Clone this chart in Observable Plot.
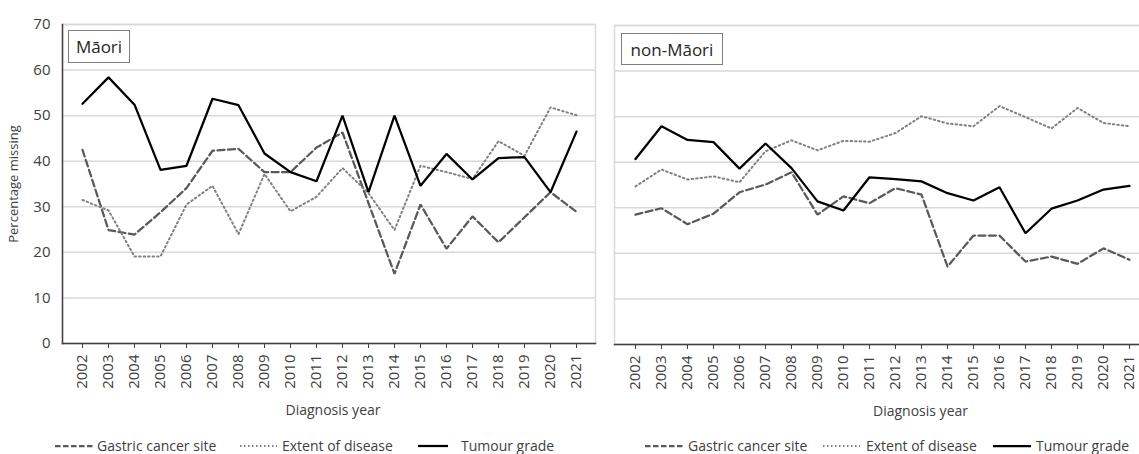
<!DOCTYPE html>
<html>
<head>
<meta charset="utf-8">
<script src="https://cdn.jsdelivr.net/npm/d3@7"></script>
<script src="https://cdn.jsdelivr.net/npm/@observablehq/plot@0.6"></script>
<style>
  body { margin: 0; background: #fff; overflow: hidden; font-family: "Open Sans", sans-serif; color: #404040; }
  #root { position: relative; width: 1139px; height: 454px; overflow: hidden; }
  .chart { position: absolute; top: 0; }
  .tag { position: absolute; box-sizing: border-box; border: 1.5px solid #7f7f7f; background: #fff;
         font-size: 17px; color: #262626; display: flex; align-items: center; justify-content: center; }
  .leg { position: absolute; top: 437px; height: 18px; line-height: 18px; font-size: 14px; white-space: nowrap; color: #404040; }
  .sw { position: absolute; top: 437px; }
</style>
</head>
<body>
<div id="root"></div>
<script>
// ---- data ----
const years = ["2002","2003","2004","2005","2006","2007","2008","2009","2010","2011",
               "2012","2013","2014","2015","2016","2017","2018","2019","2020","2021"];
const seriesNames = ["Gastric cancer site", "Extent of disease", "Tumour grade"];
const panelNames = ["Māori", "non-Māori"];
const yTicks = [0, 10, 20, 30, 40, 50, 60, 70];

const maoriGastric = [42.5, 24.9, 23.9, 28.8, 34.1, 42.3, 42.7, 37.6, 37.6, 43.0,
                      46.3, 30.8, 15.3, 30.5, 20.8, 27.9, 22.2, 27.7, 33.2, 28.9];
const maoriExtent  = [31.5, 29.2, 19.1, 19.1, 30.5, 34.6, 24.0, 37.2, 29.0, 32.2,
                      38.5, 33.0, 24.9, 39.0, 37.6, 36.1, 44.4, 41.2, 51.8, 50.1];
const maoriTumour  = [52.6, 58.4, 52.4, 38.1, 39.0, 53.7, 52.3, 41.7, 37.6, 35.6,
                      50.0, 33.2, 50.0, 34.6, 41.6, 36.0, 40.7, 40.9, 33.2, 46.5];

const nonMaoriGastric = [28.5, 29.9, 26.4, 28.7, 33.4, 35.1, 37.8, 28.5, 32.5, 31.0,
                         34.3, 32.9, 17.1, 23.9, 23.9, 18.2, 19.3, 17.7, 21.1, 18.6];
const nonMaoriExtent  = [34.7, 38.4, 36.2, 36.9, 35.6, 42.4, 44.8, 42.6, 44.7, 44.5,
                         46.4, 50.1, 48.5, 47.9, 52.3, 49.9, 47.4, 51.9, 48.6, 47.9];
const nonMaoriTumour  = [40.7, 47.9, 44.9, 44.4, 38.6, 44.1, 38.7, 31.4, 29.4, 36.7,
                         36.3, 35.8, 33.2, 31.6, 34.5, 24.4, 29.8, 31.6, 34.0, 34.8];

// ---- styles ----
const styles = [
  {stroke: "#595959", strokeWidth: 2.25, strokeDasharray: "7,3.5"},
  {stroke: "#808080", strokeWidth: 2, strokeDasharray: "1.5,3"},
  {stroke: "#000000", strokeWidth: 2.25, strokeDasharray: null}
];

function rowsFor(arrs) {
  const out = [];
  arrs.forEach((arr, si) => arr.forEach((v, i) => out.push({year: years[i], value: v, series: seriesNames[si]})));
  return out;
}

function panel({rows, width, marginLeft, marginRight, marginTop, marginBottom, showY, labelDx}) {
  const marks = [
    Plot.gridY(yTicks, {stroke: "#d9d9d9", strokeOpacity: 1, strokeWidth: 1.5}),
    Plot.frame({stroke: "#d9d9d9", strokeWidth: 1.5})
  ];
  seriesNames.forEach((s, si) => {
    const st = styles[si];
    const o = {x: "year", y: "value", stroke: st.stroke, strokeWidth: st.strokeWidth, strokeLinejoin: "miter"};
    if (st.strokeDasharray) o.strokeDasharray = st.strokeDasharray;
    marks.push(Plot.line(rows.filter(d => d.series === s), o));
  });
  marks.push(Plot.frame({anchor: "bottom", stroke: "#404040", strokeWidth: 1.5}));
  marks.push(Plot.axisX({tickSize: 5, tickPadding: 6, tickRotate: -90, label: null, stroke: "#404040", fontSize: 15}));
  marks.push(Plot.text(["Diagnosis year"], {frameAnchor: "bottom", dy: 67, dx: labelDx, textAnchor: "middle", lineAnchor: "middle", fontSize: 14}));
  if (showY) {
    marks.push(Plot.frame({anchor: "left", stroke: "#404040", strokeWidth: 1.5}));
    marks.push(Plot.axisY(yTicks, {tickSize: 0, tickPadding: 12, label: null, fontSize: 15}));
    marks.push(Plot.text(["Percentage missing"], {frameAnchor: "left", dx: -49, rotate: -90, textAnchor: "middle", lineAnchor: "middle", fontSize: 13}));
  } else {
    marks.push(Plot.axisY({ticks: [], label: null, tickSize: 0}));
  }
  return Plot.plot({
    width, height: 420, marginLeft, marginRight, marginTop, marginBottom,
    style: {fontFamily: "Open Sans, sans-serif", fontSize: "14px", color: "#404040", background: "transparent", overflow: "visible"},
    x: {type: "point", domain: years, padding: 0.5},
    y: {domain: [0, 70]},
    marks
  });
}

const root = document.getElementById("root");

const left = panel({rows: rowsFor([maoriGastric, maoriExtent, maoriTumour]),
  width: 600, marginLeft: 62, marginRight: 5, marginTop: 24, marginBottom: 77, showY: true, labelDx: 4});
left.classList.add("chart"); left.style.left = "0px";
root.appendChild(left);

const right = panel({rows: rowsFor([nonMaoriGastric, nonMaoriExtent, nonMaoriTumour]),
  width: 560, marginLeft: 14, marginRight: 10, marginTop: 25, marginBottom: 76, showY: false, labelDx: 38});
right.classList.add("chart"); right.style.left = "600px";
root.appendChild(right);

// panel tags
function tag(text, x, y, w, h) {
  const d = document.createElement("div");
  d.className = "tag"; d.textContent = text;
  Object.assign(d.style, {left: x + "px", top: y + "px", width: w + "px", height: h + "px"});
  root.appendChild(d);
}
tag(panelNames[0], 68, 30, 62, 33);
tag(panelNames[1], 621, 33, 102, 32);

// legends
function swatch(x, w, si) {
  const st = styles[si];
  const ns = "http://www.w3.org/2000/svg";
  const s = document.createElementNS(ns, "svg");
  s.setAttribute("width", w); s.setAttribute("height", 18);
  s.setAttribute("class", "sw"); s.style.left = x + "px";
  const l = document.createElementNS(ns, "line");
  l.setAttribute("x1", 0); l.setAttribute("x2", w); l.setAttribute("y1", 9); l.setAttribute("y2", 9);
  l.setAttribute("stroke", st.stroke); l.setAttribute("stroke-width", st.strokeWidth);
  if (st.strokeDasharray) l.setAttribute("stroke-dasharray", si === 0 ? "5.5,2.5" : "1.5,2.5");
  s.appendChild(l);
  root.appendChild(s);
}
function legText(x, text) {
  const d = document.createElement("div");
  d.className = "leg"; d.style.left = x + "px"; d.textContent = text;
  root.appendChild(d);
}
const legendLayouts = [
  [[55, 40, 97], [240, 37, 282], [418, 30, 461]],
  [[645, 40, 688], [823, 37, 866], [993, 38, 1036]]
];
legendLayouts.forEach(items => items.forEach(([sx, sw, tx], si) => {
  swatch(sx, sw, si);
  legText(tx, seriesNames[si]);
}));
</script>
</body>
</html>
